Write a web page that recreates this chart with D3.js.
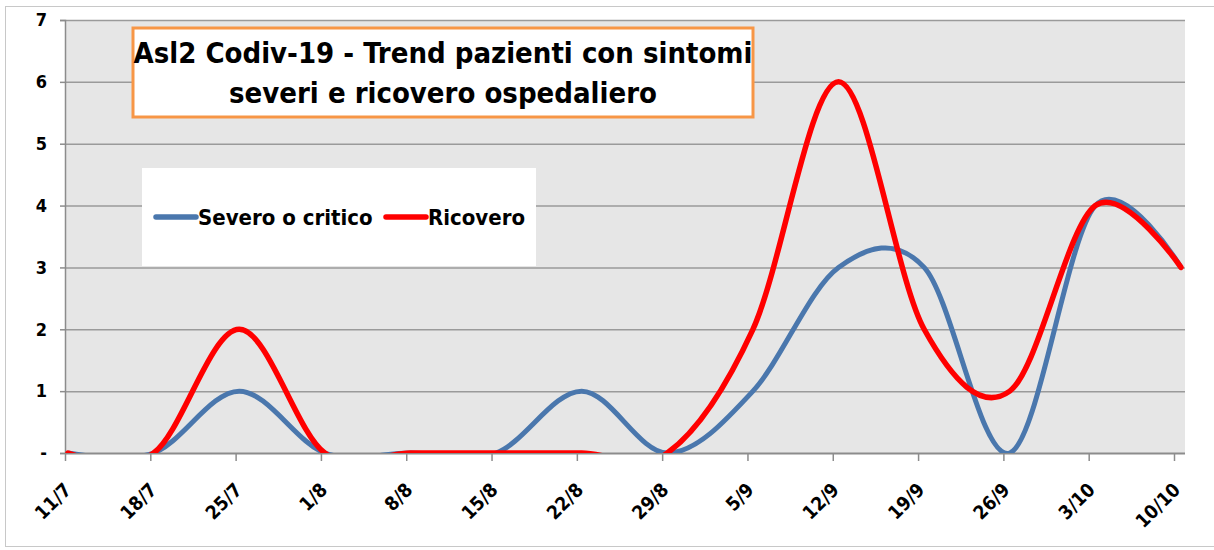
<!DOCTYPE html>
<html>
<head>
<meta charset="utf-8">
<script src="https://cdn.jsdelivr.net/npm/d3@7"></script>
<style>
body { margin: 0; background: #fff; }
text { font-family: "Liberation Sans Narrow", "DejaVu Sans Condensed", sans-serif; font-weight: bold; }
</style>
</head>
<body>
<script>
// dati
var categories = ["11/7", "18/7", "25/7", "1/8", "8/8", "15/8", "22/8", "29/8", "5/9", "12/9", "19/9", "26/9", "3/10", "10/10"];
var severo = [0, 0, 1, 0, 0, 0, 1, 0, 1, 3, 3, 0, 4, 3];
var ricovero = [0, 0, 2, 0, 0, 0, 0, 0, 2, 6, 2, 1, 4, 3];
var yTicks = [0, 1, 2, 3, 4, 5, 6, 7];
var seriesNames = ["Severo o critico", "Ricovero"];
var titleLines = ["Asl2 Codiv-19 - Trend pazienti con sintomi", "severi e ricovero ospedaliero"];

var w = 1214, h = 550;
var plotLeft = 65, plotRight = 1185, plotTop = 20, plotBottom = 453;

var svg = d3.select("body").append("svg")
    .attr("width", w)
    .attr("height", h);

// bordo esterno
svg.append("rect")
    .attr("x", 5.5).attr("y", 6.5)
    .attr("width", 1212).attr("height", 540)
    .attr("fill", "none")
    .attr("stroke", "#c8c8c8");

// scala per le etichette e scala (leggermente spostata) per i punti
var x = d3.scalePoint()
    .domain(categories)
    .range([plotLeft, 1174]);

var xData = d3.scalePoint()
    .domain(categories)
    .range([68, 1181]);

var y = d3.scaleLinear()
    .domain([0, 7])
    .range([plotBottom, plotTop]);

// area del grafico
svg.append("rect")
    .attr("x", plotLeft).attr("y", plotTop)
    .attr("width", plotRight - plotLeft).attr("height", plotBottom - plotTop)
    .attr("fill", "#e6e6e6");

svg.selectAll(".grid")
    .data(yTicks.slice(1))
    .enter()
    .append("line")
    .attr("x1", plotLeft).attr("x2", plotRight)
    .attr("y1", function(d) { return y(d) + 0.5; })
    .attr("y2", function(d) { return y(d) + 0.5; })
    .attr("stroke", "#9a9a9a")
    .attr("stroke-width", 1.5);

// asse y
var yAxis = svg.append("g")
    .attr("transform", "translate(" + plotLeft + ",0)")
    .call(d3.axisLeft(y).tickValues(yTicks).tickSize(5).tickPadding(13)
        .tickFormat(function(d) { return d === 0 ? "-" : d; }));
yAxis.select(".domain").attr("stroke", "#8c8c8c").attr("stroke-width", 1.5);
yAxis.selectAll(".tick line").attr("stroke", "#8c8c8c").attr("stroke-width", 1.5);
yAxis.selectAll("text")
    .attr("font-size", "18px")
    .attr("fill", "#000");

// asse x
var xAxis = svg.append("g")
    .attr("transform", "translate(0," + plotBottom + ")")
    .call(d3.axisBottom(x).tickSize(8).tickSizeOuter(0));
xAxis.select(".domain").attr("stroke", "#8c8c8c").attr("stroke-width", 2)
    .attr("d", "M" + plotLeft + ",0.5H" + plotRight);
xAxis.selectAll(".tick line").attr("stroke", "#8c8c8c").attr("stroke-width", 1.5);
xAxis.selectAll("text")
    .attr("font-size", "19px")
    .attr("fill", "#000")
    .attr("text-anchor", "end")
    .attr("y", 0)
    .attr("dy", 0)
    .attr("transform", "translate(7,38) rotate(-45)");

// clip per le linee
svg.append("clipPath").attr("id", "plotclip")
    .append("rect")
    .attr("x", plotLeft).attr("y", plotTop)
    .attr("width", plotRight - plotLeft).attr("height", plotBottom - plotTop);

var line = d3.line()
    .x(function(d, i) { return xData(categories[i]); })
    .y(function(d) { return y(d); })
    .curve(d3.curveCardinal.tension(0));

var lines = svg.append("g").attr("clip-path", "url(#plotclip)");

lines.append("path")
    .datum(severo)
    .attr("d", line)
    .attr("fill", "none")
    .attr("stroke", "#4a77ad")
    .attr("stroke-width", 5)
    .attr("stroke-linejoin", "round");

lines.append("path")
    .datum(ricovero)
    .attr("d", line)
    .attr("fill", "none")
    .attr("stroke", "#ff0000")
    .attr("stroke-width", 5.5)
    .attr("stroke-linejoin", "round")
    .attr("stroke-linecap", "round");

// titolo
svg.append("rect")
    .attr("x", 133).attr("y", 28)
    .attr("width", 620).attr("height", 89)
    .attr("fill", "#fff")
    .attr("stroke", "#f79646")
    .attr("stroke-width", 3);

svg.selectAll(".title")
    .data(titleLines)
    .enter()
    .append("text")
    .attr("x", 443)
    .attr("y", function(d, i) { return 63 + i * 40; })
    .attr("text-anchor", "middle")
    .attr("font-size", "29px")
    .attr("fill", "#000")
    .text(function(d) { return d; });

// legenda
svg.append("rect")
    .attr("x", 142).attr("y", 168)
    .attr("width", 394).attr("height", 98)
    .attr("fill", "#fff");

var legendX = [156, 386];
var legendColors = ["#4a77ad", "#ff0000"];
var leg = svg.selectAll(".leg")
    .data(seriesNames)
    .enter()
    .append("g")
    .attr("transform", function(d, i) { return "translate(" + legendX[i] + ",217)"; });

leg.append("line")
    .attr("x1", 0).attr("x2", 40)
    .attr("stroke", function(d, i) { return legendColors[i]; })
    .attr("stroke-width", 5.5)
    .attr("stroke-linecap", "round");

leg.append("text")
    .attr("x", 42)
    .attr("y", 8)
    .attr("font-size", "22px")
    .attr("fill", "#000")
    .text(function(d) { return d; });
</script>
</body>
</html>
